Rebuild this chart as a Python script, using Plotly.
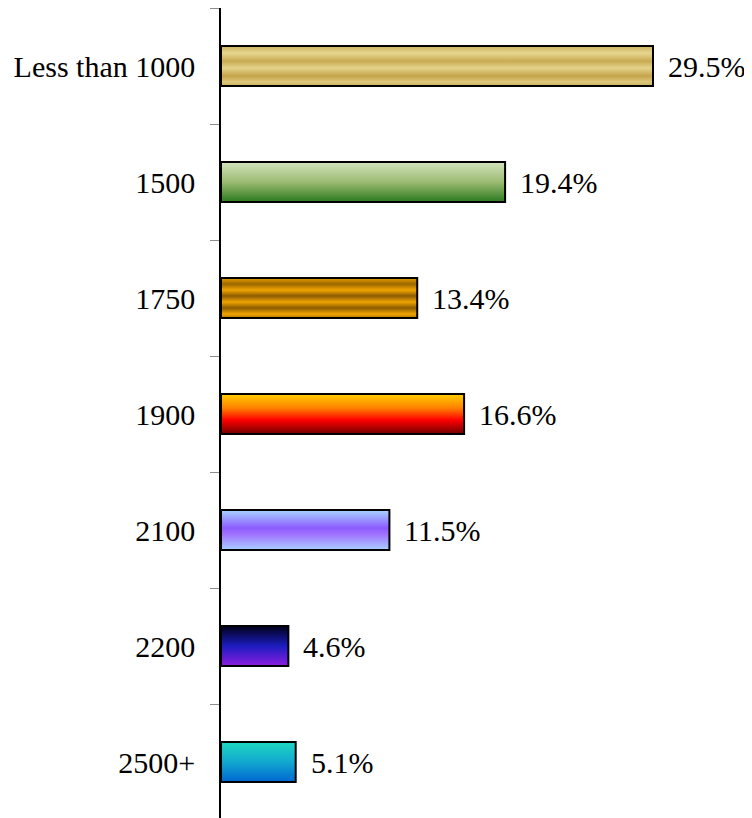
import plotly.graph_objects as go

categories = ["Less than 1000", "1500", "1750", "1900", "2100", "2200", "2500+"]
values = [29.5, 19.4, 13.4, 16.6, 11.5, 4.6, 5.1]
value_labels = ["29.5%", "19.4%", "13.4%", "16.6%", "11.5%", "4.6%", "5.1%"]

# gradient colour stops, listed from top of bar (0) to bottom (1)
gradients = [
    [[0, "#cdb25e"], [0.18, "#e6d690"], [0.38, "#c9aa52"], [0.55, "#e5d38b"], [0.75, "#c4a449"], [0.9, "#dcc77c"], [1, "#cbb05a"]],
    [[0, "#d3e4bd"], [0.5, "#9cbb72"], [1, "#2a7a1e"]],
    [[0, "#e8a000"], [0.15, "#9a6600"], [0.3, "#f0a400"], [0.45, "#8c5c00"], [0.6, "#f0a400"], [0.75, "#8c5c00"], [0.9, "#f0a400"], [1, "#b07800"]],
    [[0, "#ffd000"], [0.35, "#ff8000"], [0.65, "#ff0000"], [1, "#700000"]],
    [[0, "#a8d4ff"], [0.45, "#8c5cff"], [0.6, "#a070ff"], [1, "#a8d0ff"]],
    [[0, "#000018"], [0.5, "#1c1cc0"], [1, "#8a1ee0"]],
    [[0, "#1ed8c0"], [0.5, "#12a8d0"], [1, "#0066d0"]],
]

half = 0.172
n = len(categories)
fig = go.Figure()
ypos = [n - 1 - i for i in range(n)]
for i, (cat, v) in enumerate(zip(categories, values)):
    y = ypos[i]
    fig.add_trace(go.Scatter(
        x=[0, v, v, 0, 0],
        y=[y + half, y + half, y - half, y - half, y + half],
        mode="lines", fill="toself",
        line=dict(color="black", width=2),
        fillgradient=dict(type="vertical", colorscale=gradients[i],
                          start=y + half, stop=y - half),
        hoverinfo="skip", showlegend=False,
    ))
    fig.add_annotation(x=v, y=y, text=value_labels[i], showarrow=False,
                       xanchor="left", yanchor="middle", xshift=13,
                       font=dict(family="Liberation Serif", size=30, color="black"))

fig.update_layout(
    width=744, height=812,
    margin=dict(l=213, r=0, t=0, b=0),
    plot_bgcolor="white", paper_bgcolor="white",
    font=dict(family="Liberation Serif", size=30, color="black"),
    showlegend=False,
)
fig.update_xaxes(range=[0, 36.26], visible=False)
fig.update_yaxes(
    range=[-0.5, n - 0.5],
    tickmode="array", tickvals=ypos, ticktext=categories,
    ticks="", showgrid=False, zeroline=False,
    showline=True, linecolor="black", linewidth=1.5,
    ticklabelstandoff=18,
    minor=dict(tickmode="array", tickvals=[k - 0.5 for k in range(n + 1)],
               ticks="outside", ticklen=9, tickcolor="#8c8c8c", tickwidth=1,
               showgrid=False),
)
fig.write_html("out.html")
